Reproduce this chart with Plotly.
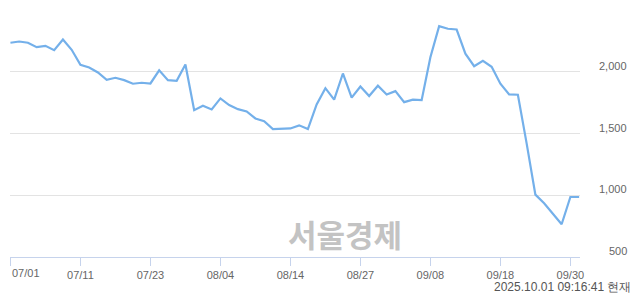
import plotly.graph_objects as go

dates = ["07/01","07/02","07/03","07/04","07/07","07/08","07/09","07/10","07/11",
         "07/14","07/15","07/16","07/17","07/18","07/21","07/22","07/23",
         "07/24","07/25","07/28","07/29","07/30","07/31","08/01","08/04",
         "08/05","08/06","08/07","08/08","08/11","08/12","08/13","08/14",
         "08/18","08/19","08/20","08/21","08/22","08/25","08/26","08/27",
         "08/28","08/29","09/01","09/02","09/03","09/04","09/05","09/08",
         "09/09","09/10","09/11","09/12","09/15","09/16","09/17","09/18",
         "09/19","09/22","09/23","09/24","09/25","09/26","09/29","09/30","10/01"]
prices = [2235, 2245, 2235, 2199, 2210, 2175, 2261, 2178, 2057,
          2035, 1994, 1935, 1951, 1932, 1903, 1911, 1905,
          2011, 1932, 1927, 2059, 1689, 1725, 1695, 1784,
          1730, 1697, 1679, 1622, 1600, 1536, 1539, 1541,
          1566, 1536, 1735, 1867, 1774, 1986, 1790, 1881,
          1803, 1887, 1816, 1843, 1754, 1774, 1770, 2118,
          2369, 2348, 2342, 2146, 2045, 2089, 2040, 1903,
          1816, 1814, 1420, 1005, 935, 854, 765, 986, 986]

x_ticks = ["07/01","07/11","07/23","08/04","08/14","08/27","09/08","09/18","09/30"]
y_ticks = [500, 1000, 1500, 2000, 2500]
y_labels = ["500", "1,000", "1,500", "2,000", ""]
watermark = "서울경제"
stamp = "2025.10.01 09:16:41 현재"

FONT = "Liberation Sans, Arial, sans-serif"

fig = go.Figure()
fig.add_trace(go.Scatter(
    x=dates, y=prices, mode="lines",
    line=dict(color="#74b0ea", width=2.2),
    hoverinfo="skip", showlegend=False,
))

annotations = []
for v, t in zip(y_ticks, y_labels):
    if t:
        annotations.append(dict(
            x=1.086, xref="paper", y=v, yref="y", text=t, showarrow=False,
            xanchor="right", yanchor="middle", yshift=6,
            font=dict(family=FONT, size=11, color="#666666")))
annotations.append(dict(
    x=x_ticks[0], xref="x", y=0, yref="paper", text=x_ticks[0], showarrow=False,
    xanchor="left", yanchor="top", yshift=-8,
    font=dict(family=FONT, size=11, color="#666666")))
annotations.append(dict(
    x=(345 - 10) / 570, xref="paper", y=(256.8 - 233) / 247.3, yref="paper",
    text="<b>" + watermark + "</b>", showarrow=False,
    xanchor="center", yanchor="middle",
    font=dict(family="Noto Sans CJK KR", size=31, color="#c3c3c3")))
annotations.append(dict(
    x=(633 - 10) / 570, xref="paper", y=(256.8 - 287) / 247.3, yref="paper",
    text=stamp, showarrow=False, xanchor="right", yanchor="middle",
    font=dict(family=FONT, size=12, color="#555555")))

fig.update_layout(
    width=640, height=294,
    margin=dict(l=10, r=60, t=9.5, b=37.2),
    paper_bgcolor="white", plot_bgcolor="white",
    annotations=annotations,
    xaxis=dict(
        type="category", range=[-0.05, 65.1],
        tickvals=x_ticks, ticktext=[""] + x_ticks[1:],
        showgrid=False, showline=True, linecolor="#c6d3ec", linewidth=1,
        ticks="outside", ticklen=8, tickcolor="#c6d3ec",
        tickfont=dict(family=FONT, size=11, color="#666666"),
        zeroline=False, fixedrange=True,
    ),
    yaxis=dict(
        range=[500, 2500], tickvals=y_ticks, showticklabels=False,
        showgrid=True, gridcolor="#e3e3e3", gridwidth=1,
        zeroline=False, showline=False, ticks="", fixedrange=True,
    ),
)

fig.write_html("out.html")
